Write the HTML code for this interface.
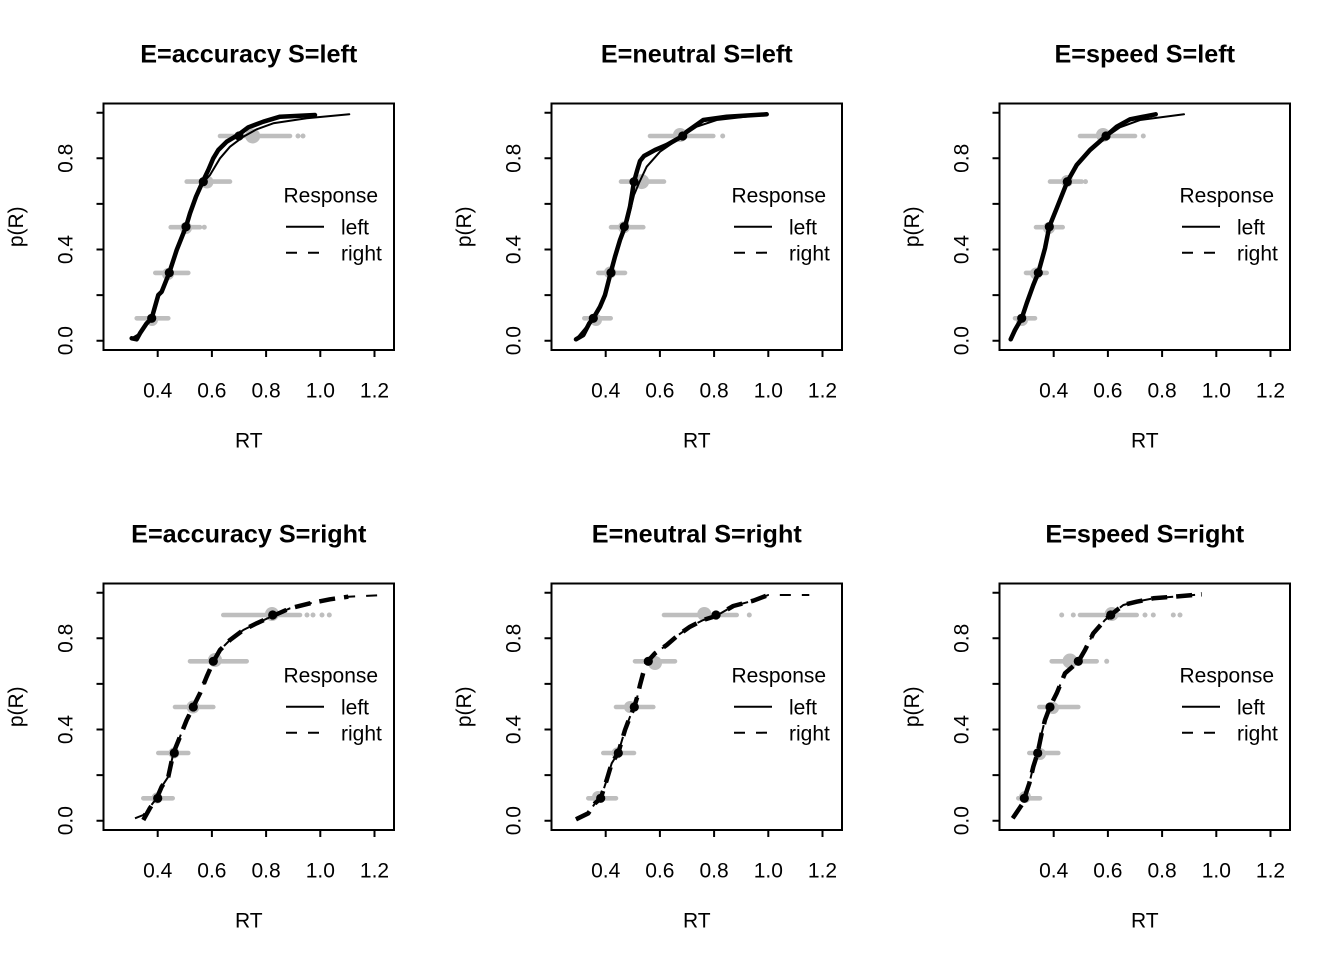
<!DOCTYPE html>
<html>
<head>
<meta charset="utf-8">
<style>
html,body{margin:0;padding:0;background:#fff;}
svg{display:block;}
text{font-family:"Liberation Sans",Arial,sans-serif;fill:#000;}
.t{font-size:21px;}
.ti{font-size:25.2px;font-weight:bold;}
.ax{fill:none;stroke:#000;stroke-width:2;}
.g{stroke:#bebebe;stroke-width:4.6;stroke-linecap:round;fill:none;}
.gc{fill:#bebebe;}
.bp{fill:#000;}
.thk{fill:none;stroke:#000;stroke-width:4.5;stroke-linejoin:round;stroke-linecap:round;}
.thn{fill:none;stroke:#000;stroke-width:2;stroke-linejoin:round;stroke-linecap:round;}
.thkd{fill:none;stroke:#000;stroke-width:4.5;stroke-linejoin:round;stroke-dasharray:16 9;}
.thnd{fill:none;stroke:#000;stroke-width:2;stroke-linejoin:round;stroke-dasharray:11 11;}
</style>
</head>
<body>
<svg width="1344" height="960" viewBox="0 0 1344 960" xmlns="http://www.w3.org/2000/svg">
<defs>
<g id="axes">
  <rect x="103.5" y="103.5" width="290.5" height="246.5" class="ax"/>
  <path class="ax" d="M157.7,350V357M211.9,350V357M266.1,350V357M320.3,350V357M374.5,350V357"/>
  <path class="ax" d="M96.5,340.7H103.5M96.5,295.1H103.5M96.5,249.5H103.5M96.5,203.9H103.5M96.5,158.3H103.5M96.5,112.7H103.5"/>
  <text class="t" x="157.7" y="397.3" text-anchor="middle">0.4</text>
  <text class="t" x="211.9" y="397.3" text-anchor="middle">0.6</text>
  <text class="t" x="266.1" y="397.3" text-anchor="middle">0.8</text>
  <text class="t" x="320.3" y="397.3" text-anchor="middle">1.0</text>
  <text class="t" x="374.5" y="397.3" text-anchor="middle">1.2</text>
  <text class="t" transform="translate(72.5,340.7) rotate(-90)" text-anchor="middle">0.0</text>
  <text class="t" transform="translate(72.5,249.5) rotate(-90)" text-anchor="middle">0.4</text>
  <text class="t" transform="translate(72.5,158.3) rotate(-90)" text-anchor="middle">0.8</text>
  <text class="t" x="248.75" y="447.3" text-anchor="middle">RT</text>
  <text class="t" transform="translate(23,226.75) rotate(-90)" text-anchor="middle">p(R)</text>
  <text class="t" x="283.5" y="202.5">Response</text>
  <path d="M286,226.7H324" stroke="#000" stroke-width="2"/>
  <text class="t" x="341" y="234.5">left</text>
  <path d="M286,252.7H324" stroke="#000" stroke-width="2" stroke-dasharray="11 11"/>
  <text class="t" x="341" y="260.5">right</text>
</g>
</defs>

<use href="#axes" x="0" y="0"/>
<use href="#axes" x="448" y="0"/>
<use href="#axes" x="896" y="0"/>
<use href="#axes" x="0" y="480"/>
<use href="#axes" x="448" y="480"/>
<use href="#axes" x="896" y="480"/>

<text class="ti" x="248.75" y="62.7" text-anchor="middle">E=accuracy S=left</text>
<text class="ti" x="696.75" y="62.7" text-anchor="middle">E=neutral S=left</text>
<text class="ti" x="1144.75" y="62.7" text-anchor="middle">E=speed S=left</text>
<text class="ti" x="248.75" y="542.7" text-anchor="middle">E=accuracy S=right</text>
<text class="ti" x="696.75" y="542.7" text-anchor="middle">E=neutral S=right</text>
<text class="ti" x="1144.75" y="542.7" text-anchor="middle">E=speed S=right</text>

<!-- ===== Panel 1 ===== -->
<path class="g" d="M220,136H290M136.7,318.3H168.3M155.3,272.9H188.3M170.7,227.2H200M186.7,181.6H230"/>
<circle class="gc" cx="298" cy="136" r="2.5"/><circle class="gc" cx="303" cy="136" r="2.5"/>
<circle class="gc" cx="204.3" cy="227.2" r="2.5"/>
<circle class="gc" cx="252.7" cy="136" r="7.5"/>
<circle class="gc" cx="207" cy="182" r="6.5"/>
<circle class="gc" cx="186" cy="228" r="6"/>
<circle class="gc" cx="168" cy="274" r="6"/>
<circle class="gc" cx="152" cy="320" r="6"/>
<polyline class="thn" points="131.7,338.3 140,333.3 151.7,318.3 158.3,298 169.3,272.7 186,226.7 196,199 202.7,183 210,175 220,158.3 230,146.7 243.3,136.7 256.7,129.3 273.3,123.3 306.7,118.3 349.3,114.3"/>
<polyline class="thk" points="131.7,338.3 136.7,339.3 140,333.3 146.7,323.3 151.7,318.3 158.3,295 161.7,291.7 169.3,272.7 176.7,250 186,226.7 190,213.3 196,196.7 202.7,181.7 208.3,170 213.3,158.3 218.3,150 226.7,141.7 239,134.3 248.3,127.3 263.3,121.7 280,116.7 315,115"/>
<circle class="bp" cx="151.7" cy="318.3" r="4.6"/><circle class="bp" cx="169.3" cy="272.7" r="4.6"/><circle class="bp" cx="186" cy="226.7" r="4.6"/><circle class="bp" cx="203.3" cy="181.7" r="4.6"/><circle class="bp" cx="239" cy="136" r="4.6"/>

<!-- ===== Panel 2 ===== -->
<path class="g" d="M650,136H713.3M621,181.6H664M611,227.2H643.3M598.3,272.9H625M584.3,318.3H610.7"/>
<circle class="gc" cx="722.7" cy="136" r="2.5"/>
<circle class="gc" cx="680" cy="135" r="7"/>
<circle class="gc" cx="641.7" cy="181.6" r="7.5"/>
<circle class="gc" cx="624" cy="227.2" r="6"/>
<circle class="gc" cx="610" cy="272.5" r="6"/>
<circle class="gc" cx="596" cy="320" r="6"/>
<polyline class="thn" points="576,339.3 589.3,323.3 600,306.7 610.7,274 620,242 628,220 634,195 639,183 646.7,166.7 660,151.7 682.7,136 696.7,126.7 716.7,120 766.7,114.3"/>
<polyline class="thk" points="576,339.3 583.3,335 589.3,323.3 593.3,318.3 600,306.7 605,295 610.7,272.7 615,256.7 620,240 625,226.7 630,206.7 634,181.7 637.3,170 640,161 644,156 655,150 666.7,145 682.7,136 686.7,131.7 703.3,120 726.7,116.7 766.7,114.3"/>
<circle class="bp" cx="593.3" cy="318.3" r="4.6"/><circle class="bp" cx="611" cy="272.7" r="4.6"/><circle class="bp" cx="624.3" cy="226.7" r="4.6"/><circle class="bp" cx="634" cy="181.7" r="4.6"/><circle class="bp" cx="682.7" cy="136" r="4.6"/>

<!-- ===== Panel 3 ===== -->
<path class="g" d="M1080,136H1135M1050,181.6H1081.7M1036,227.2H1062.7M1026,272.9H1046.7M1015,318.3H1035"/>
<circle class="gc" cx="1143.3" cy="136" r="2.5"/><circle class="gc" cx="1085.5" cy="181.6" r="2.5"/>
<circle class="gc" cx="1103" cy="135" r="7"/>
<circle class="gc" cx="1067" cy="181" r="6"/>
<circle class="gc" cx="1049" cy="228" r="6"/>
<circle class="gc" cx="1036" cy="273.5" r="6"/>
<circle class="gc" cx="1022" cy="320" r="6"/>
<polyline class="thn" points="1010.7,339.3 1021.7,318.3 1033.3,285 1038.3,272.7 1045,248.3 1049.3,226.7 1056.7,208.3 1067.3,181.7 1076.7,165 1090,150 1106,137 1120,127.3 1140,120 1184,114.3"/>
<polyline class="thk" points="1010.7,339.3 1015,330 1021.7,318.3 1026.7,303.3 1033.3,285 1038.3,272.7 1045,248.3 1049.3,226.7 1056.7,208.3 1067.3,181.7 1076.7,165 1090,150 1106,136 1116.7,126.7 1130,119.3 1155.7,114.3"/>
<circle class="bp" cx="1021.7" cy="318.3" r="4.6"/><circle class="bp" cx="1038.3" cy="272.7" r="4.6"/><circle class="bp" cx="1049.3" cy="226.7" r="4.6"/><circle class="bp" cx="1067.3" cy="181.7" r="4.6"/><circle class="bp" cx="1106" cy="136" r="4.6"/>

<!-- ===== Panel 4 ===== -->
<path class="g" d="M223.3,615H300M190,661.3H246.7M175,707H213.3M158.3,753H188.3M143.3,798.3H172.7"/>
<circle class="gc" cx="307" cy="615" r="2.5"/><circle class="gc" cx="313" cy="615" r="2.5"/><circle class="gc" cx="322" cy="615" r="2.5"/><circle class="gc" cx="329.3" cy="615" r="2.5"/>
<circle class="gc" cx="272" cy="614" r="7"/>
<circle class="gc" cx="215" cy="660" r="7"/>
<circle class="gc" cx="193" cy="707" r="6.5"/>
<circle class="gc" cx="174" cy="753" r="5.5"/>
<circle class="gc" cx="157" cy="798" r="5.5"/>
<polyline class="thnd" points="135,818.3 143.3,815 150,806.7 156.7,798.3 161.7,786.7 168.3,776.7 173.3,753.3 180,736.7 186.7,720 193.3,706.7 200,693.3 206.7,676.7 213.3,661.7 220,650 230,640 243.3,630 256.7,623.3 272.7,616 290,608.3 310,603.3 330,599.3 348.3,596.7 385,595"/>
<polyline class="thkd" points="143.3,820 150,808 156.7,798.3 161.7,786.7 168.3,776.7 173.3,753.3 180,736.7 186.7,720 193.3,706.7 200,693.3 206.7,676.7 213.3,661.7 220,650 230,640 243.3,630 256.7,623.3 272.7,616 290,608.3 310,603.3 330,599.3 348.3,596.7"/>
<circle class="bp" cx="157.7" cy="798.3" r="4.6"/><circle class="bp" cx="174.3" cy="753" r="4.6"/><circle class="bp" cx="193.3" cy="707" r="4.6"/><circle class="bp" cx="213.3" cy="661.3" r="4.6"/><circle class="bp" cx="272.7" cy="615" r="4.6"/>

<!-- ===== Panel 5 ===== -->
<path class="g" d="M664,615H736.7M635,661.3H675M616,707H653.3M603.3,753H634M588.3,798.3H616"/>
<circle class="gc" cx="749.3" cy="615" r="2.5"/>
<circle class="gc" cx="704.3" cy="614" r="7"/>
<circle class="gc" cx="655" cy="663" r="7"/>
<circle class="gc" cx="630" cy="707" r="6"/>
<circle class="gc" cx="617" cy="753" r="5.5"/>
<circle class="gc" cx="598" cy="797" r="6"/>
<polyline class="thnd" points="576,819.3 588.3,813.3 595,803.3 600.7,798.3 606.7,780 611.7,763.3 618.3,752.7 625,730 630,716.7 634.3,706.7 637.3,696.7 640,685 644,670 647.3,661.7 655,653.3 666.7,645 678.3,635 690,626.7 703.3,620 716,616 733.3,606 753.3,600.7 768.3,595 809.3,595"/>
<polyline class="thkd" points="576,819.3 588.3,813.3 595,803.3 600.7,798.3 606.7,780 611.7,763.3 618.3,752.7 625,730 630,716.7 634.3,706.7 637.3,696.7 640,685 644,670 647.3,661.7 655,653.3 666.7,645 678.3,635 690,626.7 703.3,620 716,616 733.3,606 753.3,600.7 768.3,595"/>
<circle class="bp" cx="600.7" cy="798.3" r="4.6"/><circle class="bp" cx="618.3" cy="753" r="4.6"/><circle class="bp" cx="634.3" cy="707" r="4.6"/><circle class="bp" cx="648.3" cy="661.3" r="4.6"/><circle class="bp" cx="716" cy="615" r="4.6"/>

<!-- ===== Panel 6 ===== -->
<path class="g" d="M1080,615H1136.7M1051.7,661.3H1096.7M1039.3,707H1078.3M1029.3,753H1058.3M1018.3,798.3H1040"/>
<circle class="gc" cx="1061.7" cy="615" r="2.5"/><circle class="gc" cx="1073.3" cy="615" r="2.5"/>
<circle class="gc" cx="1145" cy="615" r="2.5"/><circle class="gc" cx="1153.3" cy="615" r="2.5"/>
<circle class="gc" cx="1173.3" cy="615" r="2.5"/><circle class="gc" cx="1180" cy="615" r="2.5"/>
<circle class="gc" cx="1106.7" cy="661.3" r="2.5"/>
<circle class="gc" cx="1111.7" cy="614" r="7"/>
<circle class="gc" cx="1070" cy="661" r="7.5"/>
<circle class="gc" cx="1053" cy="708" r="6"/>
<circle class="gc" cx="1040" cy="754" r="6"/>
<circle class="gc" cx="1025" cy="797" r="6"/>
<polyline class="thnd" points="1012.7,818.3 1021.7,805 1024.3,798.3 1029.3,783.3 1033.3,766.7 1037.7,752.7 1041.7,733.3 1045,720 1050,706.7 1056.7,693.3 1065,673.3 1078.3,661.7 1085,650 1093.3,633.3 1105,620 1110.7,615 1123.3,605 1136.7,601.7 1153.3,598.3 1173.3,596.7 1201.7,594.3"/>
<polyline class="thkd" points="1012.7,818.3 1021.7,805 1024.3,798.3 1029.3,783.3 1033.3,766.7 1037.7,752.7 1041.7,733.3 1045,720 1050,706.7 1056.7,693.3 1065,673.3 1078.3,661.7 1085,650 1093.3,633.3 1105,620 1110.7,615 1123.3,605 1136.7,601.7 1153.3,598.3 1173.3,596.7 1201.7,594.3"/>
<circle class="bp" cx="1024.3" cy="798.3" r="4.6"/><circle class="bp" cx="1037.7" cy="753" r="4.6"/><circle class="bp" cx="1050" cy="707" r="4.6"/><circle class="bp" cx="1078.3" cy="661.3" r="4.6"/><circle class="bp" cx="1110.7" cy="615" r="4.6"/>
</svg>
</body>
</html>
